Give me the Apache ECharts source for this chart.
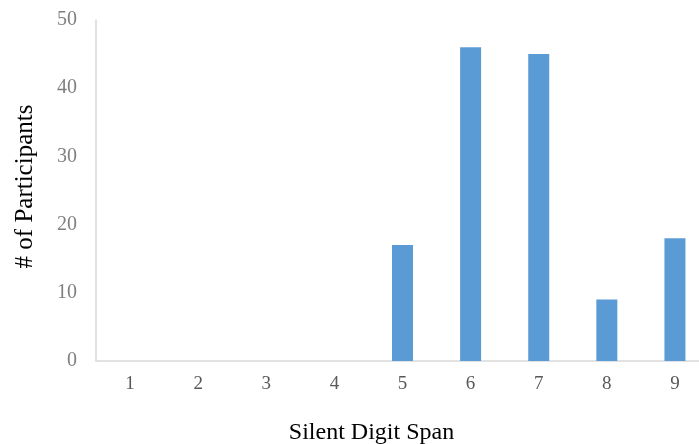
<!DOCTYPE html>
<html><head><meta charset="utf-8">
<script src="https://cdn.jsdelivr.net/npm/echarts@6/dist/echarts.min.js"></script>
<style>html,body{margin:0;padding:0;background:#fff}#c{width:699px;height:444px}</style>
</head><body><div id="c"></div>
<script>
const categories = ['1','2','3','4','5','6','7','8','9'];
const participants = [0,0,0,0,17,46,45,9,18];
const yTicks = [0,10,20,30,40,50];

const chart = echarts.init(document.getElementById('c'), null, {renderer:'canvas'});
chart.setOption({
  animation:false,
  grid:{left:96,right:-10,top:20,bottom:83,containLabel:false,outerBoundsMode:'none'},
  xAxis:{
    type:'category', data:categories,
    axisLine:{lineStyle:{color:'#d9d9d9',width:1.5}},
    axisTick:{show:false},
    axisLabel:{color:'#595959',fontFamily:'Liberation Serif',fontSize:19,margin:14},
    name:'Silent Digit Span', nameLocation:'middle', nameGap:60,
    nameTextStyle:{color:'#000',fontFamily:'Liberation Serif',fontSize:24,padding:[0,0,0,-62]}
  },
  yAxis:{
    type:'value', min:yTicks[0], max:yTicks[yTicks.length-1], interval:10,
    axisLine:{show:true,lineStyle:{color:'#d9d9d9',width:1.5}},
    axisTick:{show:false},
    splitLine:{show:false},
    axisLabel:{color:'#7f7f7f',fontFamily:'Liberation Serif',fontSize:20,margin:19},
    name:'# of Participants', nameLocation:'middle', nameGap:58,
    nameTextStyle:{color:'#000',fontFamily:'Liberation Serif',fontSize:25,padding:[0,0,0,8]}
  },
  series:[{type:'bar',data:participants,barWidth:21,itemStyle:{color:'#5b9bd5'}}]
});
</script></body></html>
